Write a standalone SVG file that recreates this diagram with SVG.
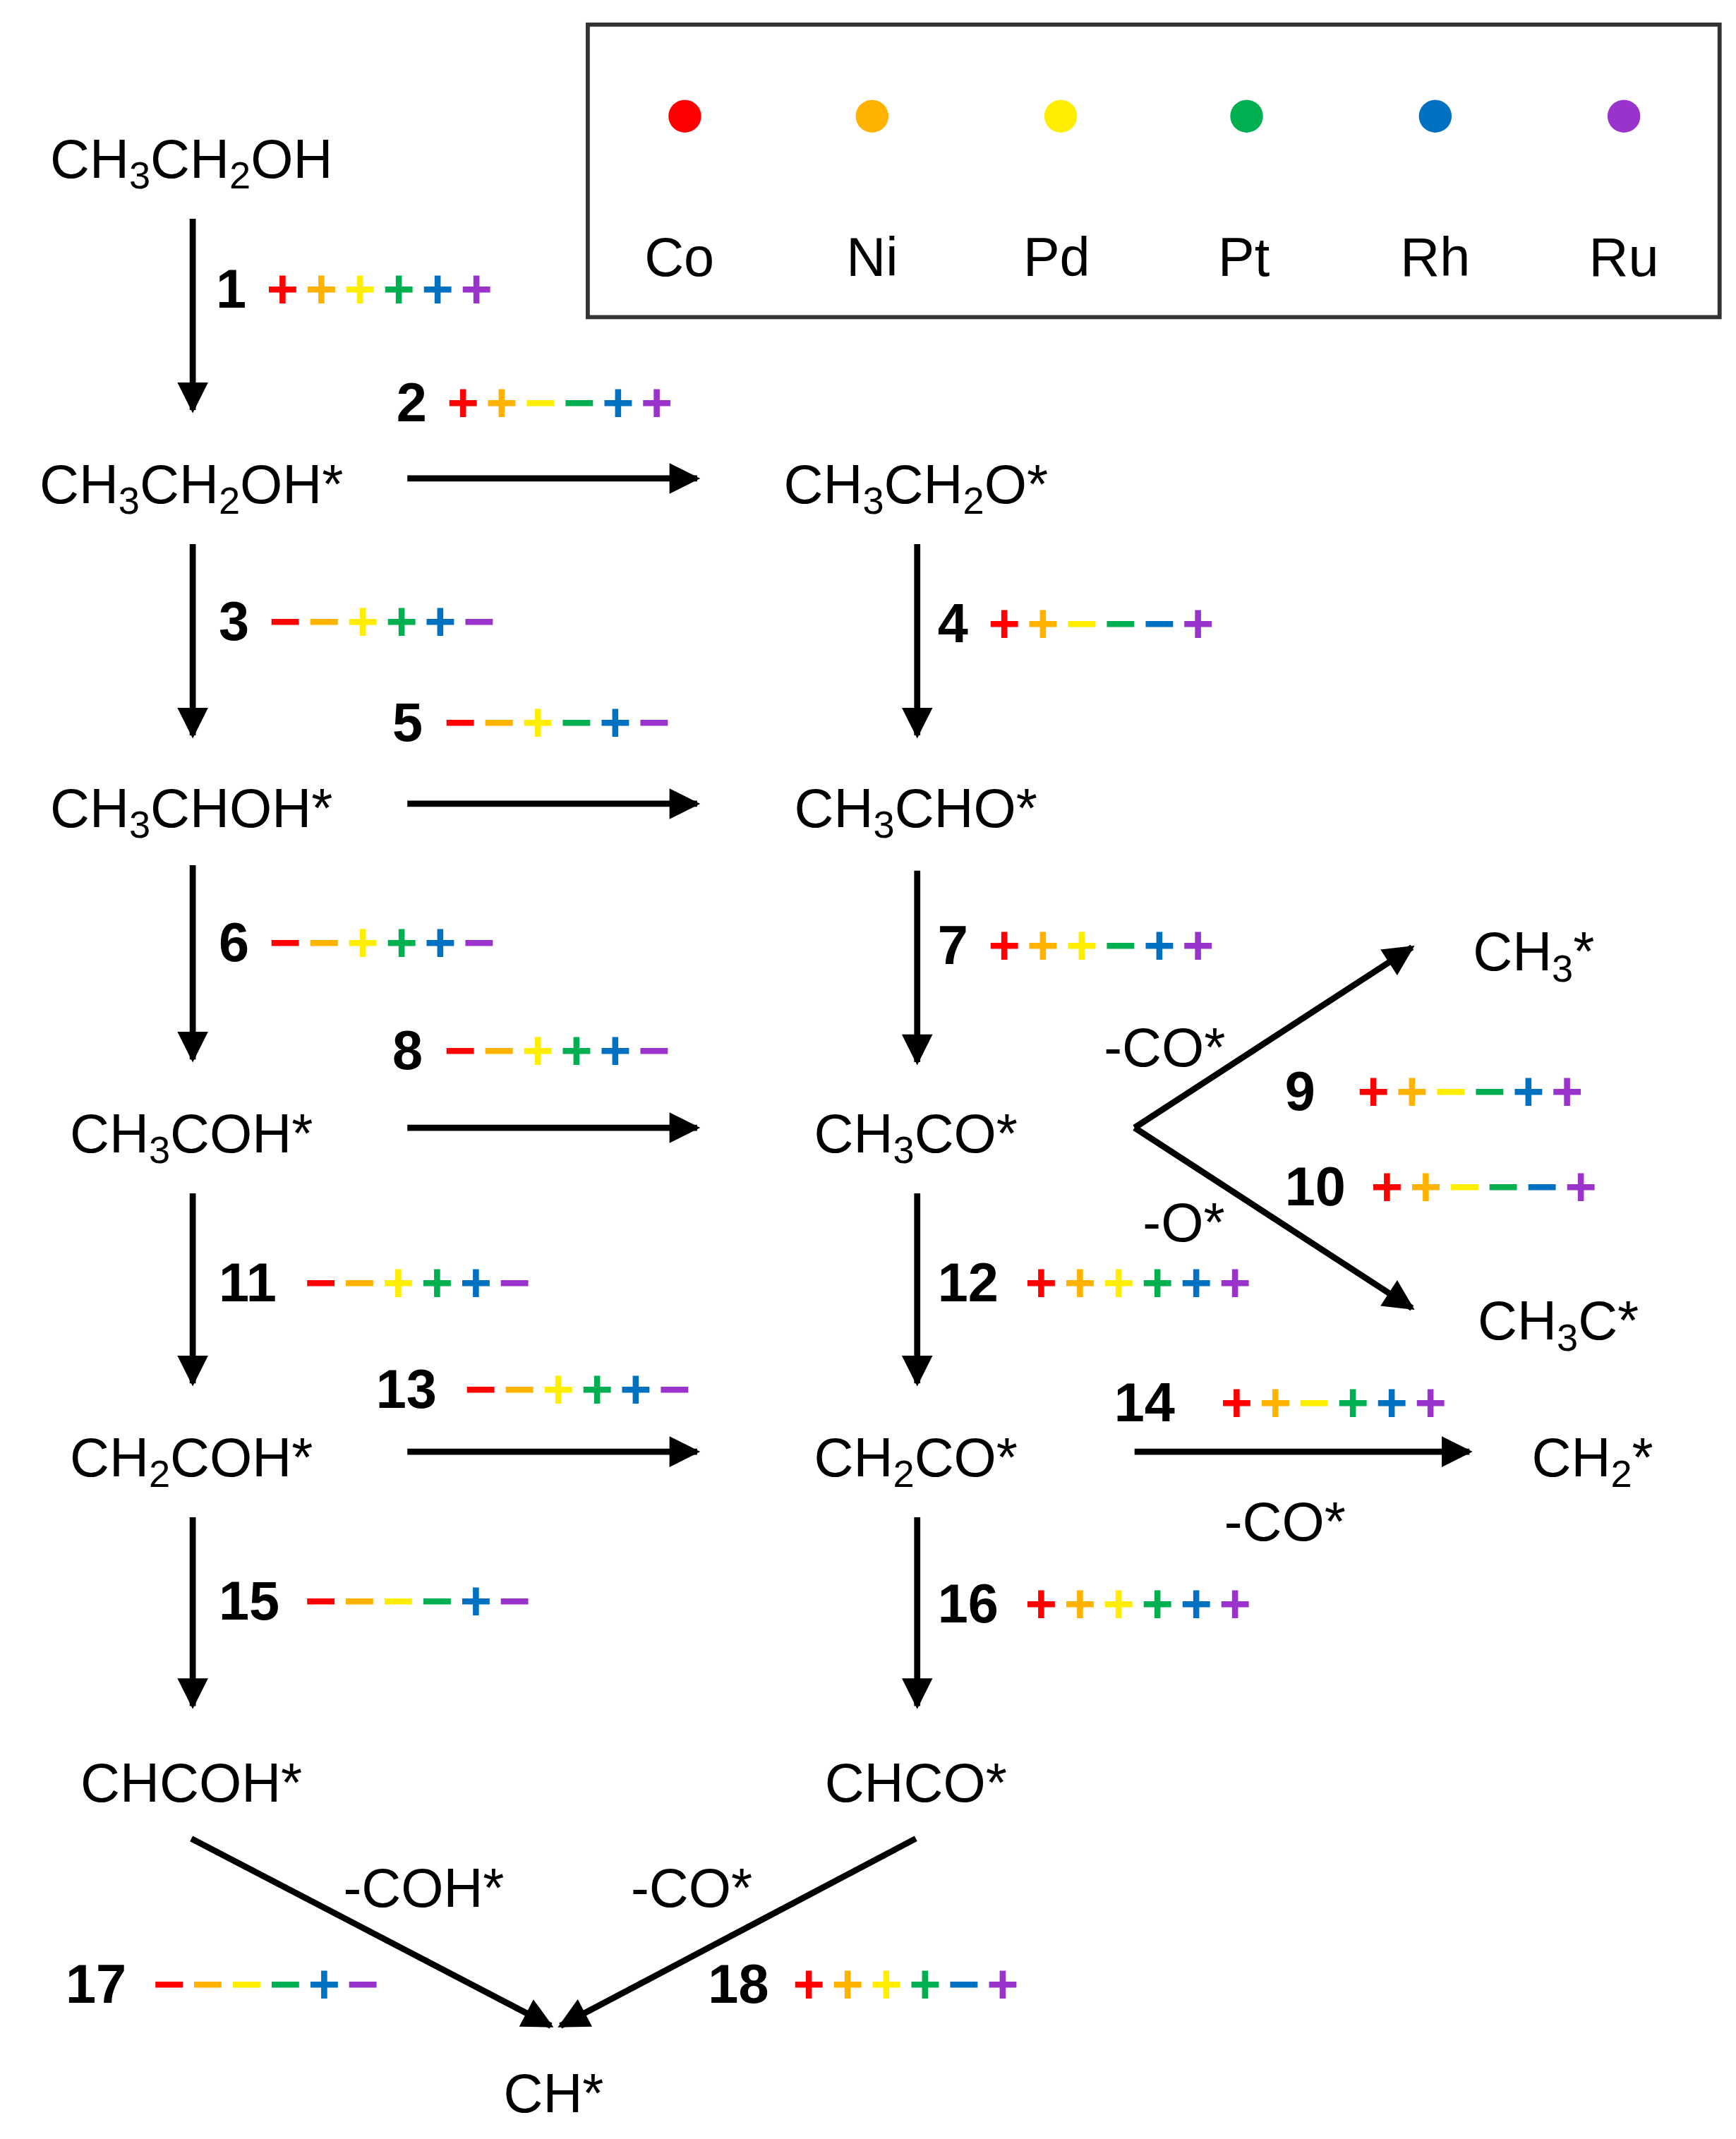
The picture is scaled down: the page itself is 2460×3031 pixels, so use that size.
<svg xmlns="http://www.w3.org/2000/svg" width="2460" height="3031" viewBox="0 0 2460 3031">
<defs>
<marker id="ah" viewBox="0 0 10 10" refX="9" refY="5" markerWidth="6" markerHeight="5" markerUnits="strokeWidth" orient="auto"><path d="M0,0 L10,5 L0,10 Z" fill="#000"/></marker>
<style>
.t{font-family:"Liberation Sans",Arial,sans-serif;font-size:40px;fill:#000}
.n{font-family:"Liberation Sans",Arial,sans-serif;font-size:40px;font-weight:bold;fill:#000}
.s{font-family:"Liberation Sans",Arial,sans-serif;font-size:40px;font-weight:bold;letter-spacing:5px}
.sub{font-size:28px}
.a{stroke:#000;stroke-width:4.5;fill:none;marker-end:url(#ah)}
.r{fill:#ff0000}.o{fill:#ffb300}.y{fill:#ffee00}.g{fill:#00b050}.b{fill:#0070c0}.p{fill:#9933cc}
</style>
</defs>
<rect width="2460" height="3031" fill="#fff"/>
<g transform="scale(1.937)">
<g id="legend">
<rect x="430" y="18" width="828" height="214" fill="none" stroke="#333" stroke-width="3"/>
<circle cx="501" cy="85" r="12" fill="#ff0000"/><circle cx="638" cy="85" r="12" fill="#ffb300"/><circle cx="776" cy="85" r="12" fill="#ffee00"/><circle cx="912" cy="85" r="12" fill="#00b050"/><circle cx="1050" cy="85" r="12" fill="#0070c0"/><circle cx="1188" cy="85" r="12" fill="#9933cc"/>
<g class="t" text-anchor="middle"><text x="497" y="202">Co</text><text x="638" y="202">Ni</text><text x="773" y="202">Pd</text><text x="910" y="202">Pt</text><text x="1050" y="202">Rh</text><text x="1188" y="202">Ru</text></g>
</g>
<g class="t" text-anchor="middle">
<g id="n1"><text x="140" y="130">CH<tspan class="sub" dy="8">3</tspan><tspan dy="-8">CH</tspan><tspan class="sub" dy="8">2</tspan><tspan dy="-8">OH</tspan></text></g>
<g id="n2"><text x="140" y="368">CH<tspan class="sub" dy="8">3</tspan><tspan dy="-8">CH</tspan><tspan class="sub" dy="8">2</tspan><tspan dy="-8">OH*</tspan></text></g>
<g id="n3"><text x="670" y="368">CH<tspan class="sub" dy="8">3</tspan><tspan dy="-8">CH</tspan><tspan class="sub" dy="8">2</tspan><tspan dy="-8">O*</tspan></text></g>
<g id="n4"><text x="140" y="605">CH<tspan class="sub" dy="8">3</tspan><tspan dy="-8">CHOH*</tspan></text></g>
<g id="n5"><text x="670" y="605">CH<tspan class="sub" dy="8">3</tspan><tspan dy="-8">CHO*</tspan></text></g>
<g id="n6"><text x="140" y="843">CH<tspan class="sub" dy="8">3</tspan><tspan dy="-8">COH*</tspan></text></g>
<g id="n7"><text x="670" y="843">CH<tspan class="sub" dy="8">3</tspan><tspan dy="-8">CO*</tspan></text></g>
<g id="n8"><text x="1122" y="710">CH<tspan class="sub" dy="8">3</tspan><tspan dy="-8">*</tspan></text></g>
<g id="n9"><text x="1140" y="980">CH<tspan class="sub" dy="8">3</tspan><tspan dy="-8">C*</tspan></text></g>
<g id="n10"><text x="140" y="1080">CH<tspan class="sub" dy="8">2</tspan><tspan dy="-8">COH*</tspan></text></g>
<g id="n11"><text x="670" y="1080">CH<tspan class="sub" dy="8">2</tspan><tspan dy="-8">CO*</tspan></text></g>
<g id="n12"><text x="1165" y="1080">CH<tspan class="sub" dy="8">2</tspan><tspan dy="-8">*</tspan></text></g>
<g id="n13"><text x="140" y="1318">CHCOH*</text></g>
<g id="n14"><text x="670" y="1318">CHCO*</text></g>
<g id="n15"><text x="405" y="1545">CH*</text></g>
</g>
<g id="connectors">
<line class="a" x1="141" y1="160" x2="141" y2="300"/>
<line class="a" x1="141" y1="398" x2="141" y2="538"/>
<line class="a" x1="141" y1="633" x2="141" y2="775"/>
<line class="a" x1="141" y1="873" x2="141" y2="1012"/>
<line class="a" x1="141" y1="1110" x2="141" y2="1248"/>
<line class="a" x1="671" y1="398" x2="671" y2="538"/>
<line class="a" x1="671" y1="637" x2="671" y2="777"/>
<line class="a" x1="671" y1="873" x2="671" y2="1012"/>
<line class="a" x1="671" y1="1110" x2="671" y2="1248"/>
<line class="a" x1="298" y1="350" x2="510" y2="350"/>
<line class="a" x1="298" y1="588" x2="510" y2="588"/>
<line class="a" x1="298" y1="825" x2="510" y2="825"/>
<line class="a" x1="298" y1="1062" x2="510" y2="1062"/>
<line class="a" x1="830" y1="1062" x2="1075" y2="1062"/>
<line class="a" x1="830" y1="825" x2="1033" y2="693"/>
<line class="a" x1="830" y1="825" x2="1033" y2="957"/>
<line class="a" x1="140" y1="1345" x2="403" y2="1482"/>
<line class="a" x1="670" y1="1345" x2="410" y2="1482"/>
</g>
<g class="t" text-anchor="middle">
<text x="852" y="780">-CO*</text><text x="866" y="908">-O*</text><text x="310" y="1395">-COH*</text><text x="506" y="1395">-CO*</text><text x="940" y="1127">-CO*</text>
</g>
<g id="labels">
<text class="n" x="158" y="225">1</text><text class="s" x="195" y="225"><tspan class="r">+</tspan><tspan class="o">+</tspan><tspan class="y">+</tspan><tspan class="g">+</tspan><tspan class="b">+</tspan><tspan class="p">+</tspan></text>
<text class="n" x="290" y="308">2</text><text class="s" x="327" y="308"><tspan class="r">+</tspan><tspan class="o">+</tspan><tspan class="y">−</tspan><tspan class="g">−</tspan><tspan class="b">+</tspan><tspan class="p">+</tspan></text>
<text class="n" x="160" y="468">3</text><text class="s" x="197" y="468"><tspan class="r">−</tspan><tspan class="o">−</tspan><tspan class="y">+</tspan><tspan class="g">+</tspan><tspan class="b">+</tspan><tspan class="p">−</tspan></text>
<text class="n" x="686" y="470">4</text><text class="s" x="723" y="470"><tspan class="r">+</tspan><tspan class="o">+</tspan><tspan class="y">−</tspan><tspan class="g">−</tspan><tspan class="b">−</tspan><tspan class="p">+</tspan></text>
<text class="n" x="287" y="542">5</text><text class="s" x="325" y="542"><tspan class="r">−</tspan><tspan class="o">−</tspan><tspan class="y">+</tspan><tspan class="g">−</tspan><tspan class="b">+</tspan><tspan class="p">−</tspan></text>
<text class="n" x="160" y="703">6</text><text class="s" x="197" y="703"><tspan class="r">−</tspan><tspan class="o">−</tspan><tspan class="y">+</tspan><tspan class="g">+</tspan><tspan class="b">+</tspan><tspan class="p">−</tspan></text>
<text class="n" x="686" y="705">7</text><text class="s" x="723" y="705"><tspan class="r">+</tspan><tspan class="o">+</tspan><tspan class="y">+</tspan><tspan class="g">−</tspan><tspan class="b">+</tspan><tspan class="p">+</tspan></text>
<text class="n" x="287" y="782">8</text><text class="s" x="325" y="782"><tspan class="r">−</tspan><tspan class="o">−</tspan><tspan class="y">+</tspan><tspan class="g">+</tspan><tspan class="b">+</tspan><tspan class="p">−</tspan></text>
<text class="n" x="940" y="812">9</text><text class="s" x="993" y="812"><tspan class="r">+</tspan><tspan class="o">+</tspan><tspan class="y">−</tspan><tspan class="g">−</tspan><tspan class="b">+</tspan><tspan class="p">+</tspan></text>
<text class="n" x="940" y="882">10</text><text class="s" x="1003" y="882"><tspan class="r">+</tspan><tspan class="o">+</tspan><tspan class="y">−</tspan><tspan class="g">−</tspan><tspan class="b">−</tspan><tspan class="p">+</tspan></text>
<text class="n" x="160" y="952">11</text><text class="s" x="223" y="952"><tspan class="r">−</tspan><tspan class="o">−</tspan><tspan class="y">+</tspan><tspan class="g">+</tspan><tspan class="b">+</tspan><tspan class="p">−</tspan></text>
<text class="n" x="686" y="952">12</text><text class="s" x="750" y="952"><tspan class="r">+</tspan><tspan class="o">+</tspan><tspan class="y">+</tspan><tspan class="g">+</tspan><tspan class="b">+</tspan><tspan class="p">+</tspan></text>
<text class="n" x="275" y="1030">13</text><text class="s" x="340" y="1030"><tspan class="r">−</tspan><tspan class="o">−</tspan><tspan class="y">+</tspan><tspan class="g">+</tspan><tspan class="b">+</tspan><tspan class="p">−</tspan></text>
<text class="n" x="815" y="1040">14</text><text class="s" x="893" y="1040"><tspan class="r">+</tspan><tspan class="o">+</tspan><tspan class="y">−</tspan><tspan class="g">+</tspan><tspan class="b">+</tspan><tspan class="p">+</tspan></text>
<text class="n" x="160" y="1185">15</text><text class="s" x="223" y="1185"><tspan class="r">−</tspan><tspan class="o">−</tspan><tspan class="y">−</tspan><tspan class="g">−</tspan><tspan class="b">+</tspan><tspan class="p">−</tspan></text>
<text class="n" x="686" y="1187">16</text><text class="s" x="750" y="1187"><tspan class="r">+</tspan><tspan class="o">+</tspan><tspan class="y">+</tspan><tspan class="g">+</tspan><tspan class="b">+</tspan><tspan class="p">+</tspan></text>
<text class="n" x="48" y="1465">17</text><text class="s" x="112" y="1465"><tspan class="r">−</tspan><tspan class="o">−</tspan><tspan class="y">−</tspan><tspan class="g">−</tspan><tspan class="b">+</tspan><tspan class="p">−</tspan></text>
<text class="n" x="518" y="1465">18</text><text class="s" x="580" y="1465"><tspan class="r">+</tspan><tspan class="o">+</tspan><tspan class="y">+</tspan><tspan class="g">+</tspan><tspan class="b">−</tspan><tspan class="p">+</tspan></text>
</g>
</g>
</svg>
